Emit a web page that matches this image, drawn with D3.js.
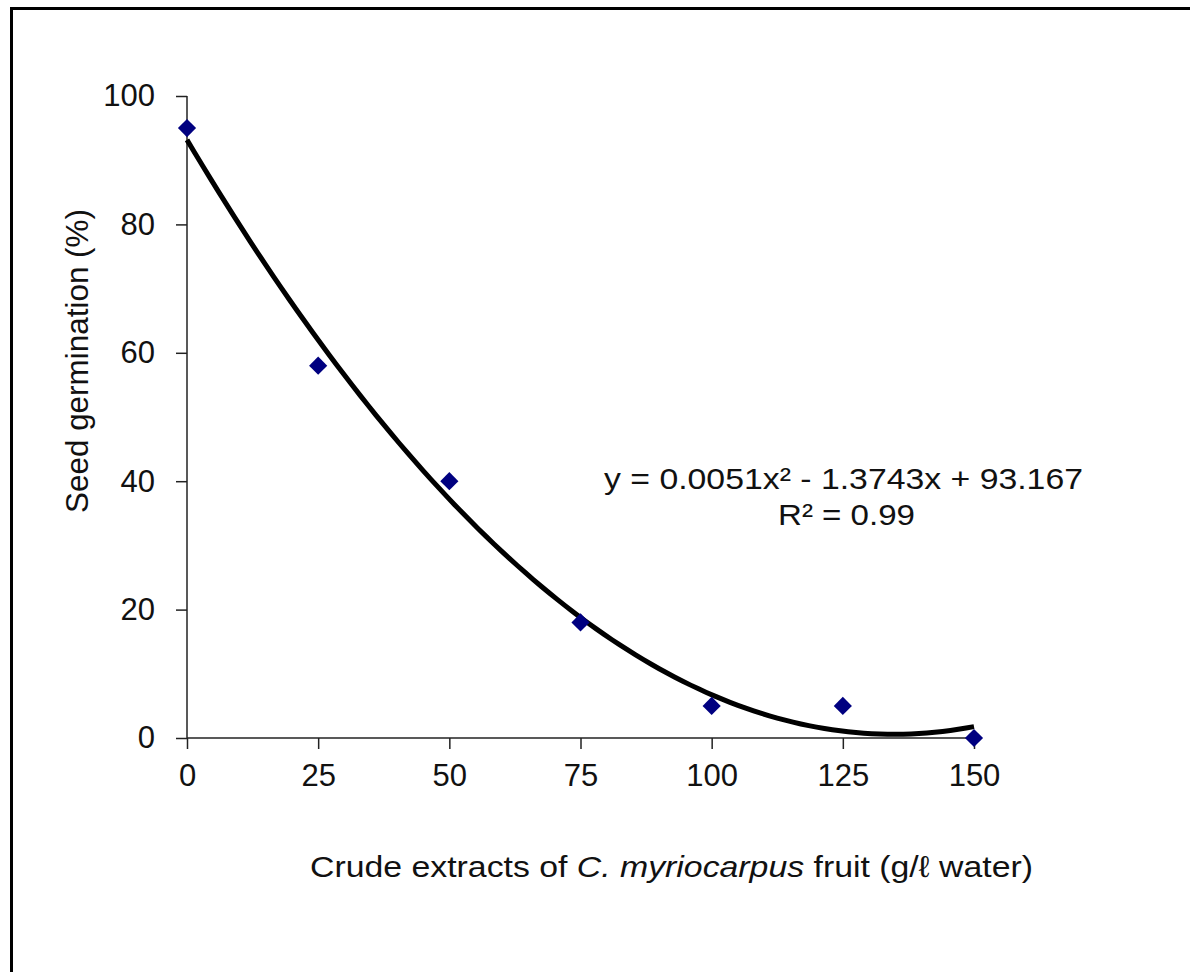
<!DOCTYPE html>
<html>
<head>
<meta charset="utf-8">
<script src="https://cdn.jsdelivr.net/npm/d3@7"></script>
<style>
  html, body { margin: 0; padding: 0; background: #fff; }
  text { font-family: "Liberation Sans", Arial, sans-serif; fill: #111; }
</style>
</head>
<body>
<svg id="chart" width="1190" height="972"></svg>
<script>
// ---- data ----
const concentrations = [0, 25, 50, 75, 100, 125, 150];
const germination = [95, 58, 40, 18, 5, 5, 0];
const xTicks = [0, 25, 50, 75, 100, 125, 150];
const yTicks = [0, 20, 40, 60, 80, 100];
// quadratic trendline coefficients shown in the chart: a*x^2 + b*x + c
const trendCoefs = [0.0051, -1.3743, 93.167];
const equationText = "y = 0.0051x² - 1.3743x + 93.167";
const r2Text = "R² = 0.99";

const svg = d3.select("#chart");

// frame
svg.append("rect")
  .attr("x", 11.5).attr("y", 8.5)
  .attr("width", 1300).attr("height", 1100)
  .attr("fill", "none").attr("stroke", "#000").attr("stroke-width", 3);

const x = d3.scaleLinear().domain([0, 150]).range([187, 974]);
const y = d3.scaleLinear().domain([0, 100]).range([738, 96]);

const axisColor = "#222";

// y axis
const gy = svg.append("g").attr("transform", `translate(${x(0)},0)`)
  .call(d3.axisLeft(y).tickValues(yTicks).tickSize(11).tickSizeOuter(0).tickPadding(21));
gy.select(".domain").remove();
gy.selectAll(".tick line").attr("stroke", axisColor).attr("stroke-width", 1.5);
gy.selectAll(".tick text").style("font-size", "31px").attr("fill", "#111");

// x axis
const gx = svg.append("g").attr("transform", `translate(0,${y(0)})`)
  .call(d3.axisBottom(x).tickValues(xTicks).tickSize(11).tickSizeOuter(0).tickPadding(15));
gx.select(".domain").remove();
gx.selectAll(".tick line").attr("stroke", axisColor).attr("stroke-width", 1.5);
gx.selectAll(".tick text").style("font-size", "31px").attr("fill", "#111");

// axis lines
svg.append("line")
  .attr("x1", x(0)).attr("x2", x(0)).attr("y1", y(100)).attr("y2", y(0))
  .attr("stroke", axisColor).attr("stroke-width", 1.5);
svg.append("line")
  .attr("x1", x(0)).attr("x2", x(150)).attr("y1", y(0)).attr("y2", y(0))
  .attr("stroke", axisColor).attr("stroke-width", 1.5);

// trendline
const trend = t => trendCoefs[0] * t * t + trendCoefs[1] * t + trendCoefs[2];
const trendX = d3.range(0, 150.01, 1.5);
svg.append("path")
  .datum(trendX)
  .attr("d", d3.line().x(d => x(d)).y(d => y(trend(d))).curve(d3.curveLinear))
  .attr("fill", "none").attr("stroke", "#000").attr("stroke-width", 5)
  .attr("stroke-linejoin", "round");

// markers
const sym = d3.symbol().type(d3.symbolSquare).size(165);
svg.append("g").selectAll("path")
  .data(concentrations.map((c, i) => [c, germination[i]]))
  .join("path")
  .attr("d", sym)
  .attr("transform", d => `translate(${x(d[0])},${y(d[1])}) rotate(45)`)
  .attr("fill", "#000080");

// y axis title
svg.append("text")
  .attr("transform", "translate(88,361) rotate(-90)")
  .attr("text-anchor", "middle")
  .attr("textLength", 304).attr("lengthAdjust", "spacingAndGlyphs")
  .style("font-size", "31px")
  .text("Seed germination (%)");

// x axis title
const xt = svg.append("text")
  .attr("x", 310).attr("y", 877)
  .attr("textLength", 723).attr("lengthAdjust", "spacingAndGlyphs")
  .style("font-size", "30px");
xt.append("tspan").text("Crude extracts of ");
xt.append("tspan").style("font-style", "italic").text("C. myriocarpus");
xt.append("tspan").text(" fruit (g/ℓ water)");

// equation
svg.append("text")
  .attr("x", 604).attr("y", 489)
  .attr("textLength", 479).attr("lengthAdjust", "spacingAndGlyphs")
  .style("font-size", "30px")
  .text(equationText);
svg.append("text")
  .attr("x", 778).attr("y", 525)
  .attr("textLength", 137).attr("lengthAdjust", "spacingAndGlyphs")
  .style("font-size", "30px")
  .text(r2Text);
</script>
</body>
</html>
